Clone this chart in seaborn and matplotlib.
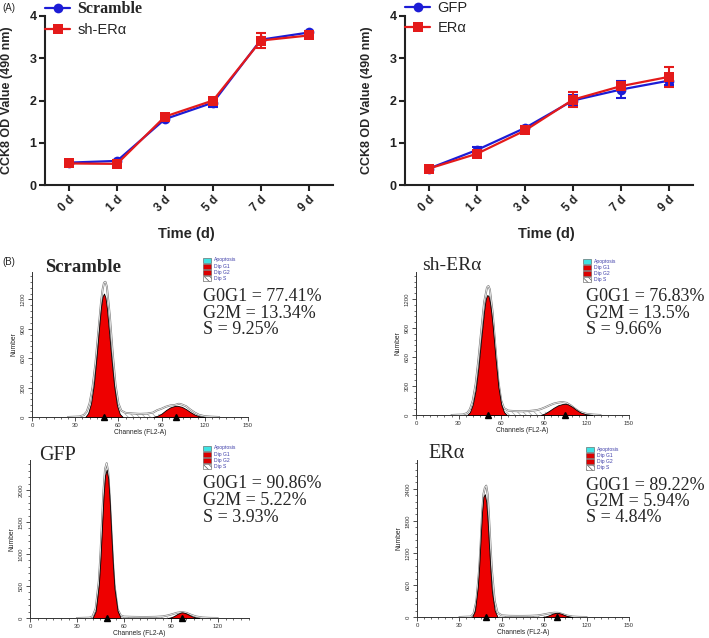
import numpy as np
import pandas as pd
import matplotlib
matplotlib.use("Agg")
import matplotlib.pyplot as plt
import seaborn as sns
from matplotlib.patches import Rectangle
from matplotlib.ticker import AutoMinorLocator, MultipleLocator

# ---------------- data: (A) CCK8 growth curves ----------------
DAYS = ["0 d", "1 d", "3 d", "5 d", "7 d", "9 d"]
SCRAMBLE = [0.53, 0.57, 1.56, 1.95, 3.44, 3.61]
SCRAMBLE_ERR = [0.03, 0.03, 0.04, 0.10, 0.05, 0.03]
SH_ERA = [0.51, 0.50, 1.62, 2.00, 3.42, 3.54]
SH_ERA_ERR = [0.04, 0.04, 0.05, 0.06, 0.17, 0.04]
GFP = [0.39, 0.83, 1.35, 2.00, 2.26, 2.47]
GFP_ERR = [0.03, 0.08, 0.04, 0.12, 0.20, 0.10]
ERA = [0.39, 0.74, 1.29, 2.02, 2.34, 2.56]
ERA_ERR = [0.03, 0.05, 0.04, 0.17, 0.10, 0.24]

# ---------------- data: (B) cell-cycle histograms ----------------
SCR_G1_CH = [37, 39, 41, 43, 45, 47, 48, 49, 50, 51, 52, 53, 55, 57, 59, 61, 63]
SCR_G1_N = [0, 40, 140, 340, 640, 980, 1130, 1230, 1260, 1220, 1110, 950, 620, 320, 120, 30, 0]
SCR_G2_CH = [84, 87, 90, 93, 96, 99, 101, 104, 107, 110, 113, 116, 120]
SCR_G2_N = [0, 12, 35, 70, 98, 112, 114, 104, 80, 50, 24, 8, 0]
SCR_RAW_CH = [25, 33, 36, 38, 40, 42, 44, 46, 48, 49, 50, 51, 52, 54, 56, 58, 60, 62, 65, 70, 75,
              80, 84, 87, 90, 93, 96, 99, 102, 104, 107, 110, 113, 116, 120, 125, 130]
SCR_RAW_N = [0, 5, 20, 55, 140, 300, 540, 860, 1180, 1300, 1370, 1380, 1330, 1040, 660, 330, 140, 65,
             42, 36, 32, 35, 45, 70, 85, 105, 118, 122, 135, 128, 110, 75, 45, 22, 8, 3, 0]
SCR_S_CH = [42, 48, 55, 70, 85, 100, 108, 114]
SCR_S_N = [0, 25, 34, 33, 31, 26, 10, 0]
SCR_TRI = [50, 100]
SCR_STATS = ["G0G1 = 77.41%", "G2M = 13.34%", "S = 9.25%"]

SHE_G1_CH = [36, 38, 40, 42, 44, 46, 48, 49, 50, 51, 52, 53, 54, 56, 58, 60, 62, 64]
SHE_G1_N = [0, 30, 110, 260, 500, 800, 1080, 1190, 1240, 1235, 1170, 1060, 920, 590, 290, 110, 30, 0]
SHE_G2_CH = [88, 91, 94, 97, 100, 103, 105, 107, 110, 113, 116, 120, 124]
SHE_G2_N = [0, 18, 45, 75, 100, 113, 116, 110, 85, 52, 25, 6, 0]
SHE_RAW_CH = [25, 33, 36, 38, 40, 42, 44, 46, 48, 50, 51, 52, 54, 56, 58, 60, 62, 65, 70, 75, 80,
              85, 88, 91, 94, 97, 100, 103, 106, 109, 112, 115, 120, 125, 130]
SHE_RAW_N = [0, 5, 20, 60, 150, 320, 580, 880, 1170, 1320, 1335, 1300, 1060, 690, 350, 150, 70, 45,
             40, 38, 42, 50, 62, 80, 100, 118, 128, 134, 126, 100, 65, 35, 12, 4, 0]
SHE_S_CH = [42, 48, 56, 70, 85, 100, 110, 116]
SHE_S_N = [0, 26, 38, 37, 35, 29, 10, 0]
SHE_TRI = [51, 105]
SHE_STATS = ["G0G1 = 76.83%", "G2M = 13.5%", "S = 9.66%"]

GFP_G1_CH = [40, 42, 44, 45, 46, 47, 48, 49, 50, 51, 52, 53, 54, 56, 58]
GFP_G1_N = [0, 110, 520, 900, 1400, 1900, 2230, 2320, 2180, 1800, 1300, 830, 460, 110, 0]
GFP_G2_CH = [88, 90, 92, 94, 96, 97, 98, 100, 102, 104, 106, 108]
GFP_G2_N = [0, 10, 30, 60, 82, 88, 86, 70, 45, 22, 8, 0]
GFP_RAW_CH = [30, 38, 40, 42, 44, 45, 46, 47, 48, 49, 50, 51, 52, 53, 54, 56, 58, 60, 65, 70, 75, 80,
              85, 88, 91, 94, 97, 100, 103, 106, 110, 115, 120]
GFP_RAW_N = [0, 5, 25, 150, 580, 980, 1500, 2000, 2330, 2420, 2280, 1880, 1380, 900, 520, 140, 40, 22,
             18, 16, 16, 18, 25, 40, 60, 82, 92, 80, 50, 25, 8, 2, 0]
GFP_S_CH = [44, 50, 58, 75, 90, 98, 104]
GFP_S_N = [0, 14, 18, 16, 14, 8, 0]
GFP_TRI = [49, 97]
GFP_STATS = ["G0G1 = 90.86%", "G2M = 5.22%", "S = 3.93%"]

ERA_G1_CH = [39, 41, 43, 44, 45, 46, 47, 48, 49, 50, 51, 52, 53, 55, 57]
ERA_G1_N = [0, 120, 560, 950, 1450, 1950, 2250, 2300, 2150, 1780, 1300, 860, 480, 120, 0]
ERA_G2_CH = [89, 92, 94, 96, 98, 99, 100, 102, 104, 106, 108, 110]
ERA_G2_N = [0, 18, 40, 62, 76, 78, 76, 62, 40, 20, 7, 0]
ERA_RAW_CH = [30, 38, 40, 42, 44, 45, 46, 47, 48, 49, 50, 51, 52, 53, 55, 57, 60, 65, 70, 75, 80, 85,
              88, 91, 94, 97, 100, 103, 106, 110, 115, 120]
ERA_RAW_N = [0, 8, 60, 300, 900, 1350, 1900, 2300, 2420, 2460, 2300, 1850, 1350, 880, 300, 80, 30, 22,
             20, 20, 22, 28, 40, 55, 70, 80, 78, 55, 28, 8, 2, 0]
ERA_S_CH = [44, 50, 58, 75, 90, 98, 105]
ERA_S_N = [0, 16, 22, 20, 18, 10, 0]
ERA_TRI = [49, 99]
ERA_STATS = ["G0G1 = 89.22%", "G2M = 5.94%", "S = 4.84%"]

FLOW_LEGEND = ["Apoptosis", "Dip G1", "Dip G2", "Dip S"]

# ---------------- style ----------------
sns.set_style("ticks")
plt.rcParams["font.family"] = ["Liberation Sans", "DejaVu Sans"]
plt.rcParams["hatch.linewidth"] = 0.5
SANS = ["Liberation Sans", "DejaVu Sans"]
SERIF = ["Liberation Serif", "DejaVu Serif"]
BLUE = "#1c1cd6"
RED = "#e41a1a"
FILL_RED = "#ee0000"

W, H = 709, 638
fig = plt.figure(figsize=(W / 100, H / 100), dpi=100)
fig.patch.set_facecolor("white")


def axes_px(l, t, r, b):
    return fig.add_axes([l / W, 1 - b / H, (r - l) / W, (b - t) / H])


def ftext(x, y, s, **kw):
    return fig.text(x / W, 1 - y / H, s, **kw)


def growth(ax, s1, e1, s2, e2, lab1, lab2, lab1_font, lab1_weight):
    x = np.arange(len(DAYS))
    df = pd.DataFrame({"x": np.r_[x, x], "y": list(s1) + list(s2),
                       "g": [lab1] * len(x) + [lab2] * len(x)})
    sns.lineplot(data=df, x="x", y="y", hue="g", style="g", markers=["o", "s"],
                 dashes=False, palette=[BLUE, RED], ax=ax, lw=1.6, markersize=7,
                 markeredgewidth=0)
    ax.errorbar(x, s1, yerr=e1, fmt="none", ecolor=BLUE, capsize=3.5,
                elinewidth=1.5, capthick=1.5, zorder=1)
    ax.errorbar(x, s2, yerr=e2, fmt="none", ecolor=RED, capsize=3.5,
                elinewidth=1.5, capthick=1.5, zorder=3)
    ax.set_xlim(-0.5, len(DAYS) - 0.5)
    ax.set_ylim(0, 4)
    ax.yaxis.set_major_locator(MultipleLocator(1))
    ax.set_xticks(x)
    ax.set_xticklabels(DAYS)
    for lab in ax.get_xticklabels():
        lab.set_rotation(45)
        lab.set_ha("right")
        lab.set_va("top")
        lab.set_rotation_mode("anchor")
        lab.set_fontweight("bold")
        lab.set_fontsize(8.5)
    for lab in ax.get_yticklabels():
        lab.set_fontweight("bold")
        lab.set_fontsize(9)
    ax.tick_params(width=1.5, length=4, pad=2, colors="#222222")
    for sp in ["left", "bottom"]:
        ax.spines[sp].set_linewidth(1.5)
        ax.spines[sp].set_color("#222222")
    sns.despine(ax=ax)
    ax.set_xlabel("Time (d)", fontsize=10.5, fontweight="bold")
    ax.set_ylabel("CCK8 OD Value (490 nm)", fontsize=9, fontweight="bold")
    ax.yaxis.set_label_coords(-0.11, 0.5)
    ax.xaxis.set_label_coords(0.49, -0.25)
    handles, labels = ax.get_legend_handles_labels()
    leg = ax.legend(handles, labels, loc="upper left", bbox_to_anchor=(0.0, 1.09),
                    frameon=False, handlelength=1.8, handletextpad=0.55,
                    borderpad=0, borderaxespad=0, labelspacing=0.45, fontsize=10)
    t0 = leg.get_texts()[0]
    t0.set_fontfamily(lab1_font)
    t0.set_fontweight(lab1_weight)
    if lab1_weight == "bold":
        t0.set_fontsize(11.5)
    for t in leg.get_texts()[1:]:
        t.set_fontsize(10.5)


axA1 = axes_px(45, 16, 333, 185)
growth(axA1, SCRAMBLE, SCRAMBLE_ERR, SH_ERA, SH_ERA_ERR, "Scramble", "sh-ERα", SERIF, "bold")
axA2 = axes_px(405, 16, 693, 185)
growth(axA2, GFP, GFP_ERR, ERA, ERA_ERR, "GFP", "ERα", SANS, "normal")
for t in axA2.get_legend().get_texts():
    t.set_fontsize(10.5)


def flow(ax, g1c, g1n, g2c, g2n, rawc, rawn, sc, sn, tri, xmax, ymax, ystep):
    ax.fill_between(sc, sn, facecolor="white", hatch="\\\\\\\\\\\\", edgecolor="#a0a0a0",
                    lw=0, zorder=1)
    sns.lineplot(x=rawc, y=rawn, ax=ax, color="#7a7a7a", lw=1.4, zorder=2)
    ax.plot(rawc, rawn, color="white", lw=0.5, zorder=2.5)
    ax.fill_between(g1c, g1n, facecolor=FILL_RED, edgecolor="black", lw=0.6, zorder=3)
    ax.fill_between(g2c, g2n, facecolor=FILL_RED, edgecolor="black", lw=0.6, zorder=3)
    ax.plot(tri, [0] * len(tri), ls="none", marker="^", color="black", ms=4.5,
            clip_on=False, zorder=5)
    ax.set_xlim(0, xmax)
    ax.set_ylim(0, ymax)
    ax.xaxis.set_major_locator(MultipleLocator(30))
    ax.xaxis.set_minor_locator(AutoMinorLocator(6))
    ax.yaxis.set_major_locator(MultipleLocator(ystep))
    ax.yaxis.set_minor_locator(AutoMinorLocator(5))
    ax.tick_params(which="major", length=3, width=0.6, labelsize=4.3, pad=1.5,
                   colors="#333333")
    ax.tick_params(which="minor", length=1.6, width=0.5, colors="#333333")
    for lab in ax.get_yticklabels():
        lab.set_rotation(90)
        lab.set_va("center")
    for sp in ["left", "bottom"]:
        ax.spines[sp].set_linewidth(0.7)
        ax.spines[sp].set_color("#333333")
    sns.despine(ax=ax)
    ax.set_facecolor("white")
    ax.set_xlabel("Channels (FL2-A)", fontsize=4.8, labelpad=0.5, color="#222222")
    ax.set_ylabel("Number", fontsize=4.8, labelpad=2, color="#222222")


def flow_legend(x, y0):
    faces = ["#3fe3e3", "#dd0000", "#dd0000", "white"]
    hatches = [None, None, None, "\\\\\\\\\\\\"]
    for i, lab in enumerate(FLOW_LEGEND):
        yy = y0 + i * 6.3
        fig.patches.append(Rectangle((x / W, 1 - (yy + 2.5) / H), 8 / W, 5 / H,
                                     transform=fig.transFigure, facecolor=faces[i],
                                     edgecolor="#555555", lw=0.4, hatch=hatches[i]))
        ftext(x + 11, yy, lab, fontsize=3.6, color="#3c3ca8", va="center")


def stats(x, y0, lines):
    for i, s in enumerate(lines):
        ftext(x, y0 + i * 16.5, s, family=SERIF, fontsize=13, va="center")


axB1 = axes_px(32, 272, 248, 417)
flow(axB1, SCR_G1_CH, SCR_G1_N, SCR_G2_CH, SCR_G2_N, SCR_RAW_CH, SCR_RAW_N,
     SCR_S_CH, SCR_S_N, SCR_TRI, 150, 1480, 300)
axB2 = axes_px(416, 272, 629, 415)
flow(axB2, SHE_G1_CH, SHE_G1_N, SHE_G2_CH, SHE_G2_N, SHE_RAW_CH, SHE_RAW_N,
     SHE_S_CH, SHE_S_N, SHE_TRI, 150, 1480, 300)
axB3 = axes_px(30, 460, 249, 618)
flow(axB3, GFP_G1_CH, GFP_G1_N, GFP_G2_CH, GFP_G2_N, GFP_RAW_CH, GFP_RAW_N,
     GFP_S_CH, GFP_S_N, GFP_TRI, 140, 2470, 500)
axB4 = axes_px(417, 460, 629, 617)
flow(axB4, ERA_G1_CH, ERA_G1_N, ERA_G2_CH, ERA_G2_N, ERA_RAW_CH, ERA_RAW_N,
     ERA_S_CH, ERA_S_N, ERA_TRI, 150, 2940, 600)

# titles
ftext(45, 267, "Scramble", family=SERIF, fontweight="bold", fontsize=13.5, va="center")
ftext(422, 265, "sh-ERα", family=SERIF, fontsize=14, va="center")
ftext(39, 455, "GFP", family=SERIF, fontsize=14.5, va="center")
ftext(428, 454, "ERα", family=SERIF, fontsize=14.5, va="center")

flow_legend(203, 260)
flow_legend(583, 261)
flow_legend(203, 448)
flow_legend(586, 449)

stats(203, 297, SCR_STATS)
stats(586, 297, SHE_STATS)
stats(203, 484, GFP_STATS)
stats(586, 485, ERA_STATS)

ftext(2, 8, "(A)", fontsize=7, va="center")
ftext(2, 262, "(B)", fontsize=7, va="center")

fig.savefig("out.png", dpi=100, facecolor="white")
